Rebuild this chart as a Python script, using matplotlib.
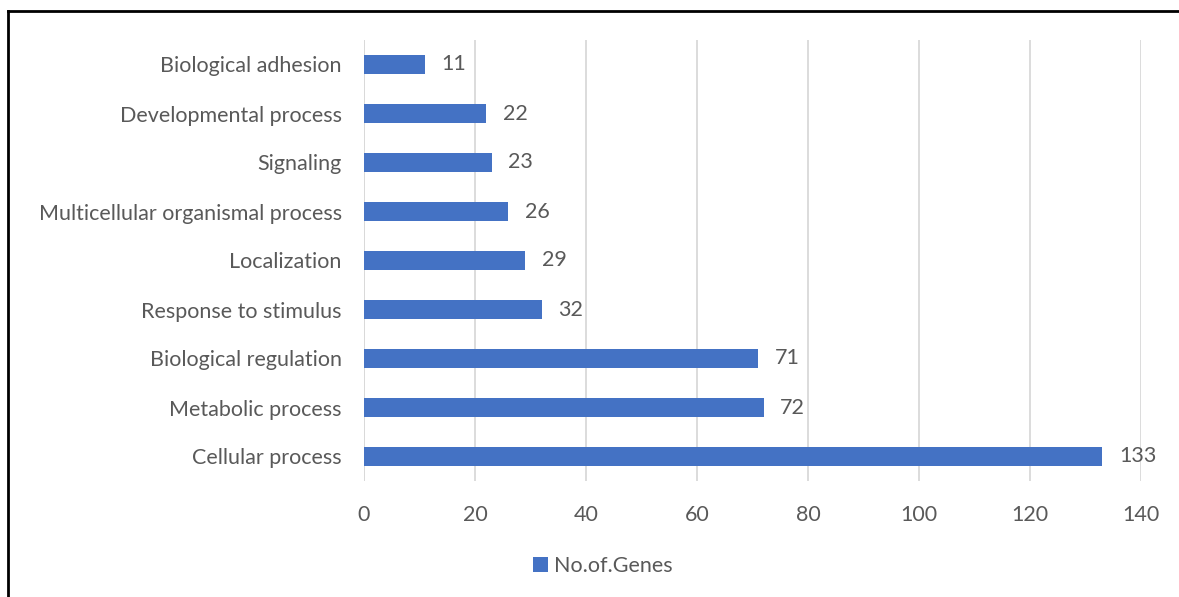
import matplotlib.pyplot as plt
from matplotlib.lines import Line2D

categories = ['Cellular process', 'Metabolic process', 'Biological regulation',
              'Response to stimulus', 'Localization', 'Multicellular organismal process',
              'Signaling', 'Developmental process', 'Biological adhesion']
genes = [133, 72, 71, 32, 29, 26, 23, 22, 11]
xticks = [0, 20, 40, 60, 80, 100, 120, 140]

plt.rcParams['font.family'] = ['Lato', 'DejaVu Sans']
txt = '#595959'
bar_color = '#4472C4'
fs = 15.5

fig = plt.figure(figsize=(11.79, 5.97), dpi=100)
ax = fig.add_axes([364 / 1179, 1 - 481 / 597, (1141 - 364) / 1179, (481 - 40) / 597])

ax.barh(range(len(categories)), genes, height=0.37, color=bar_color, label='No.of.Genes', zorder=3)
for i, v in enumerate(genes):
    ax.text(v + 3, i, str(v), va='center', ha='left', fontsize=fs, color=txt)

ax.set_xlim(0, 140)
ax.set_ylim(-0.5, len(categories) - 0.5)
ax.set_xticks(xticks)
ax.set_yticks(range(len(categories)))
ax.set_yticklabels(categories)
ax.grid(axis='x', color='#D9D9D9', linewidth=1.3, zorder=0)
ax.axvline(0, color='#D9D9D9', linewidth=1.3, zorder=1)
for s in ax.spines.values():
    s.set_visible(False)
ax.tick_params(axis='both', length=0, labelsize=fs, labelcolor=txt)
ax.tick_params(axis='x', pad=17)
ax.tick_params(axis='y', pad=16)

ax.legend(loc='center', bbox_to_anchor=(603 / 1179, 1 - 566 / 597), bbox_transform=fig.transFigure,
          frameon=False, fontsize=fs, labelcolor=txt, handlelength=0.7, handleheight=0.7,
          handletextpad=0.3)

# border around the chart (only left and top visible)
fig.add_artist(Line2D([8 / 1179, 8 / 1179], [0, 1 - 11 / 597], color='black', linewidth=2,
                      transform=fig.transFigure))
fig.add_artist(Line2D([8 / 1179, 1], [1 - 11 / 597, 1 - 11 / 597], color='black', linewidth=2,
                      transform=fig.transFigure))

fig.savefig('out.png', dpi=100)
